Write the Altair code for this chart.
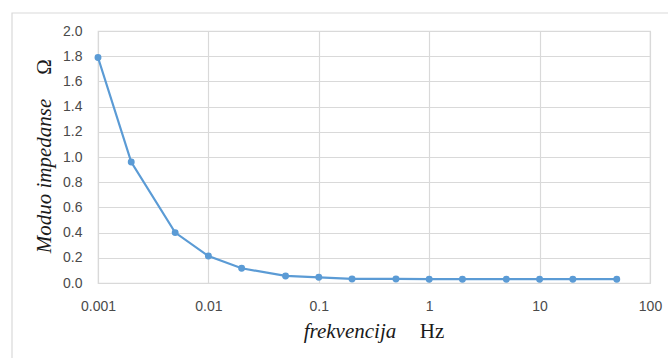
import altair as alt
import pandas as pd

freq = [0.001, 0.002, 0.005, 0.01, 0.02, 0.05, 0.1, 0.2, 0.5, 1, 2, 5, 10, 20, 50]
impedance = [1.79, 0.96, 0.40, 0.214, 0.117, 0.056, 0.045, 0.032, 0.032, 0.03, 0.03, 0.03, 0.03, 0.03, 0.03]
x_ticks = [0.001, 0.01, 0.1, 1, 10, 100]
y_ticks = [0.0, 0.2, 0.4, 0.6, 0.8, 1.0, 1.2, 1.4, 1.6, 1.8, 2.0]

df = pd.DataFrame({"f": freq, "z": impedance})
one = pd.DataFrame({"k": [0]})

BLUE = "#5B9BD5"
GRID = "#d9d9d9"
LABEL = "#4a4a4a"
TICKFONT = "Liberation Sans"
SERIF = "Liberation Serif"

x_enc = alt.X("f:Q",
              scale=alt.Scale(type="log", domain=[0.001, 100], nice=False),
              axis=alt.Axis(values=x_ticks, format="~g", title=None, grid=True,
                            gridColor=GRID, gridWidth=1.2, domain=False, ticks=False,
                            labelFont=TICKFONT, labelFontSize=14, labelColor=LABEL,
                            labelPadding=16, labelFlush=False, labelOverlap=False))
y_enc = alt.Y("z:Q",
              scale=alt.Scale(domain=[0, 2], nice=False),
              axis=alt.Axis(values=y_ticks, format=".1f", title=None, grid=True,
                            gridColor=GRID, gridWidth=1.2, domain=False, ticks=False,
                            labelFont=TICKFONT, labelFontSize=14, labelColor=LABEL,
                            labelPadding=16, labelOverlap=False, labelFlush=False))

border = alt.Chart(one).mark_rect(fill=None, stroke=GRID, strokeWidth=1.2).encode(
    x=alt.value(-86), y=alt.value(-18), x2=alt.value(600), y2=alt.value(360))

line = alt.Chart(df).mark_line(color=BLUE, strokeWidth=2.2).encode(x=x_enc, y=y_enc)
pts = alt.Chart(df).mark_circle(color=BLUE, size=48, opacity=1).encode(x=x_enc, y=y_enc)

ytitle = alt.Chart(one).mark_text(text="Moduo impedanse", font=SERIF, fontStyle="italic",
                                  fontSize=21, angle=270, align="center", baseline="middle",
                                  color="#1a1a1a").encode(x=alt.value(-53), y=alt.value(145))
yunit = alt.Chart(one).mark_text(text="Ω", font=SERIF, fontSize=21, angle=270,
                                 align="center", baseline="middle",
                                 color="#1a1a1a").encode(x=alt.value(-53), y=alt.value(36))
xtitle = alt.Chart(one).mark_text(text="frekvencija", font=SERIF, fontStyle="italic",
                                  fontSize=21, align="center", baseline="alphabetic",
                                  color="#1a1a1a").encode(x=alt.value(252), y=alt.value(307))
xunit = alt.Chart(one).mark_text(text="Hz", font=SERIF, fontSize=21, align="center",
                                 baseline="alphabetic",
                                 color="#1a1a1a").encode(x=alt.value(334), y=alt.value(307))

chart = alt.layer(border, line, pts, ytitle, yunit, xtitle, xunit).properties(
    width=552, height=252,
    autosize=alt.AutoSizeParams(type="none"),
    padding={"left": 98, "top": 31, "right": 18, "bottom": 75},
    background="white",
).configure_view(stroke=GRID, strokeWidth=1.2)

chart.save("out.html", embed_options={"renderer": "svg", "actions": False})
